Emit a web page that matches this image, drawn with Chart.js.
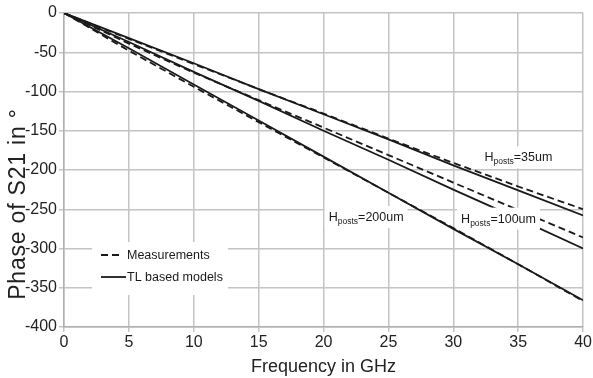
<!DOCTYPE html>
<html>
<head>
<meta charset="utf-8">
<script src="https://cdn.jsdelivr.net/npm/chart.js@4.4.1/dist/chart.umd.min.js"></script>
<style>
  html, body { margin: 0; padding: 0; background: #fff; }
  #wrap { width: 593px; height: 378px; }
</style>
</head>
<body>
<div id="wrap"><canvas id="c" width="593" height="378"></canvas></div>
<script>
// frequency points in GHz
const freq = [0, 5, 10, 15, 20, 25, 30, 35, 40]

// phase of S21 in degrees, measured
const meas35 = [0, -33, -65, -97, -128, -160, -191, -221, -250]
const meas100 = [0, -39, -76, -111, -146, -181, -216, -251, -286]
const meas200 = [0, -48, -94, -139, -184, -229, -274, -320, -367]

// phase of S21 in degrees, TL based models
const model35 = [0, -32, -64, -97, -129, -161, -194, -226, -258]
const model100 = [0, -37, -75, -112, -150, -187, -225, -262, -300]
const model200 = [0, -45, -91, -137, -183, -229, -275, -320, -366]

const xTicks = [0, 5, 10, 15, 20, 25, 30, 35, 40]
const yTicks = [0, -50, -100, -150, -200, -250, -300, -350, -400]

// curve labels: [x, y] anchor in data units, text after the subscript
const curveLabels = [
  {at: [32.4, -189], tail: '=35um'},
  {at: [30.6, -267], tail: '=100um'},
  {at: [20.4, -265], tail: '=200um'}
]

const FONT = '"Liberation Sans", Arial, sans-serif'
const INK = '#1a1a1a'

const pts = arr => freq.map((x, i) => ({x: x, y: arr[i]}))

const line = (label, arr, dashed) => ({
  label: label,
  data: pts(arr),
  borderColor: INK,
  borderWidth: 1.8,
  borderDash: dashed ? [7, 4] : [],
  pointRadius: 0,
  fill: false,
  tension: 0
})

// draws "H" + subscript "posts" + tail text starting at x, baseline y
function hLabel(ctx, x, y, tail) {
  ctx.font = '12.5px ' + FONT
  const w1 = ctx.measureText('H').width
  ctx.font = '8.5px ' + FONT
  const w2 = ctx.measureText('posts').width
  ctx.font = '12.5px ' + FONT
  const w3 = ctx.measureText(tail).width
  ctx.fillStyle = '#fff'
  ctx.fillRect(x - 4, y - 15, w1 + w2 + w3 + 8, 22)
  ctx.fillStyle = INK
  ctx.textBaseline = 'alphabetic'
  ctx.textAlign = 'left'
  ctx.font = '12.5px ' + FONT
  ctx.fillText('H', x, y)
  ctx.font = '8.5px ' + FONT
  ctx.fillText('posts', x + w1, y + 3)
  ctx.font = '12.5px ' + FONT
  ctx.fillText(tail, x + w1 + w2, y)
}

const overlay = {
  id: 'overlay',
  afterDatasetsDraw(chart) {
    const ctx = chart.ctx
    const sx = chart.scales.x
    const sy = chart.scales.y
    ctx.save()

    curveLabels.forEach(l => {
      hLabel(ctx, sx.getPixelForValue(l.at[0]), sy.getPixelForValue(l.at[1]), l.tail)
    })

    // legend box inside the plot
    ctx.fillStyle = '#fff'
    ctx.fillRect(92, 242, 136, 53)
    ctx.strokeStyle = INK
    ctx.lineWidth = 1.8
    ctx.setLineDash([7, 4])
    ctx.beginPath()
    ctx.moveTo(101, 255)
    ctx.lineTo(123, 255)
    ctx.stroke()
    ctx.setLineDash([])
    ctx.beginPath()
    ctx.moveTo(101, 277)
    ctx.lineTo(126, 277)
    ctx.stroke()
    ctx.fillStyle = INK
    ctx.font = '12.5px ' + FONT
    ctx.textBaseline = 'middle'
    ctx.textAlign = 'left'
    ctx.fillText('Measurements', 127, 256)
    ctx.fillText('TL based models', 127, 278)

    // y axis title
    ctx.translate(25, 204)
    ctx.rotate(-Math.PI / 2)
    ctx.font = '23px ' + FONT
    ctx.letterSpacing = '0.8px'
    ctx.textAlign = 'center'
    ctx.textBaseline = 'alphabetic'
    ctx.fillStyle = '#222'
    ctx.fillText('Phase of S21 in °', 0, 0)
    ctx.restore()
  }
}

new Chart(document.getElementById('c').getContext('2d'), {
  type: 'line',
  data: {
    datasets: [
      line('Measurements 35um', meas35, true),
      line('TL model 35um', model35, false),
      line('Measurements 100um', meas100, true),
      line('TL model 100um', model100, false),
      line('Measurements 200um', meas200, true),
      line('TL model 200um', model200, false)
    ]
  },
  options: {
    responsive: false,
    animation: false,
    layout: {padding: {top: 13, right: 6, left: 0, bottom: 0}},
    plugins: {legend: {display: false}, tooltip: {enabled: false}},
    scales: {
      x: {
        type: 'linear',
        min: 0,
        max: 40,
        afterBuildTicks: s => { s.ticks = xTicks.map(v => ({value: v})) },
        afterFit: s => { s.height = 51 },
        grid: {color: '#c4c4c4', lineWidth: 1.5, tickLength: 5},
        border: {color: '#b0b0b0', width: 1.5},
        ticks: {color: '#222', font: {family: FONT, size: 16}, padding: 1, maxRotation: 0},
        title: {
          display: true,
          text: 'Frequency in GHz',
          color: '#222',
          font: {family: FONT, size: 18},
          padding: {top: 0, bottom: 0}
        }
      },
      y: {
        type: 'linear',
        min: -400,
        max: 0,
        afterBuildTicks: s => { s.ticks = yTicks.map(v => ({value: v})) },
        afterFit: s => { s.width = 64 },
        grid: {color: '#c4c4c4', lineWidth: 1.5, tickLength: 5},
        border: {color: '#b0b0b0', width: 1.5},
        ticks: {color: '#222', font: {family: FONT, size: 16}, padding: 2}
      }
    }
  },
  plugins: [overlay]
})
</script>
</body>
</html>
